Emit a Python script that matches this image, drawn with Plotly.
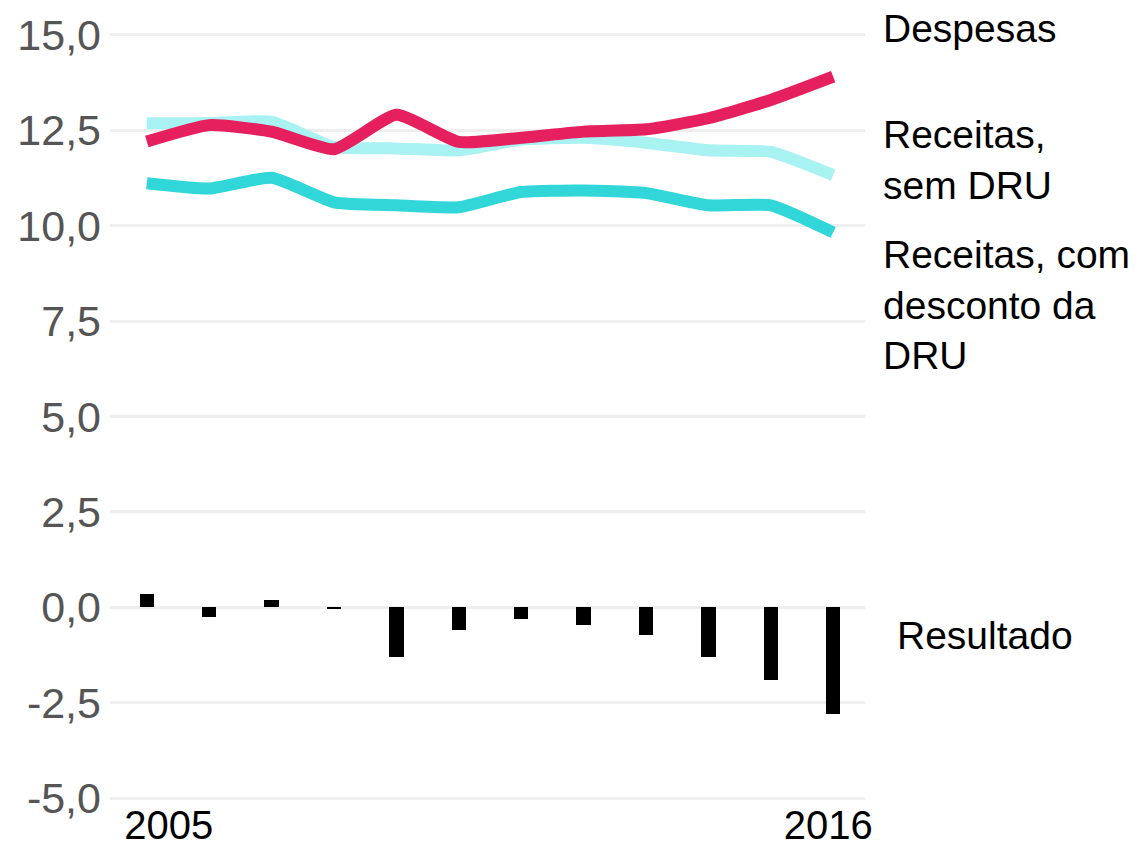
import plotly.graph_objects as go

years = list(range(2005, 2017))
despesas = [12.2, 12.63, 12.46, 12.0, 12.9, 12.19, 12.3, 12.46, 12.52, 12.81, 13.29, 13.9]
receitas_sem_dru = [12.68, 12.68, 12.72, 12.06, 12.02, 11.97, 12.25, 12.3, 12.17, 11.97, 11.93, 11.32]
receitas_com_dru = [11.11, 10.97, 11.25, 10.61, 10.53, 10.48, 10.88, 10.92, 10.85, 10.53, 10.53, 9.82]
resultado = [0.35, -0.25, 0.2, -0.05, -1.3, -0.6, -0.3, -0.45, -0.72, -1.3, -1.9, -2.8]

y_ticks = [-5, -2.5, 0, 2.5, 5, 7.5, 10, 12.5, 15]
y_ticktext = ["-5,0", "-2,5", "0,0", "2,5", "5,0", "7,5", "10,0", "12,5", "15,0"]
x_tickpos = [2005.35, 2015.92]
x_ticktext = ["2005", "2016"]

FONT = "Liberation Sans"

fig = go.Figure()
fig.add_trace(go.Bar(x=years, y=resultado, marker_color="#000000", width=0.23,
                     marker_line_width=0, name="Resultado"))
fig.add_trace(go.Scatter(x=years, y=receitas_sem_dru, mode="lines",
                         line=dict(color="#a8f2f2", width=12, shape="spline", smoothing=0.5),
                         name="Receitas, sem DRU"))
fig.add_trace(go.Scatter(x=years, y=receitas_com_dru, mode="lines",
                         line=dict(color="#30d6d8", width=12, shape="spline", smoothing=0.5),
                         name="Receitas, com desconto da DRU"))
fig.add_trace(go.Scatter(x=years, y=despesas, mode="lines",
                         line=dict(color="#e61f5f", width=12, shape="spline", smoothing=0.5),
                         name="Despesas"))

labels = [
    ("Despesas", 15.0, 6, 16),
    ("Receitas,<br>sem DRU", 11.73, 0, 16),
    ("Receitas, com<br>desconto da<br>DRU", 7.93, 0, 16),
    ("Resultado", -0.73, 0, 30),
]
for text, yv, ysh, xsh in labels:
    fig.add_annotation(x=1, xref="paper", y=yv, yref="y", text=text, showarrow=False,
                       xanchor="left", yanchor="middle", xshift=xsh, yshift=ysh, align="left",
                       font=dict(family=FONT, size=39, color="#000000"))

# page body adds an 8 px margin, so the figure is sized to fit the window
fig.update_layout(
    width=1135, height=843,
    margin=dict(l=102, r=278, t=19, b=45),
    plot_bgcolor="white", paper_bgcolor="white",
    showlegend=False,
    bargap=0,
)
fig.update_yaxes(range=[-5.2, 15.2], tickvals=y_ticks, ticktext=y_ticktext,
                 showgrid=True, gridcolor="#eeeeee", gridwidth=3, zeroline=False,
                 showline=False, ticks="", ticklabelstandoff=8, automargin=False,
                 tickfont=dict(family=FONT, size=43, color="#555555"))
fig.update_xaxes(range=[2004.41, 2016.51], tickvals=x_tickpos, ticktext=x_ticktext,
                 showgrid=False, zeroline=False, showline=False, ticks="", automargin=False,
                 ticklabelstandoff=-8,
                 tickfont=dict(family=FONT, size=40, color="#000000"))

fig.write_html("out.html")
